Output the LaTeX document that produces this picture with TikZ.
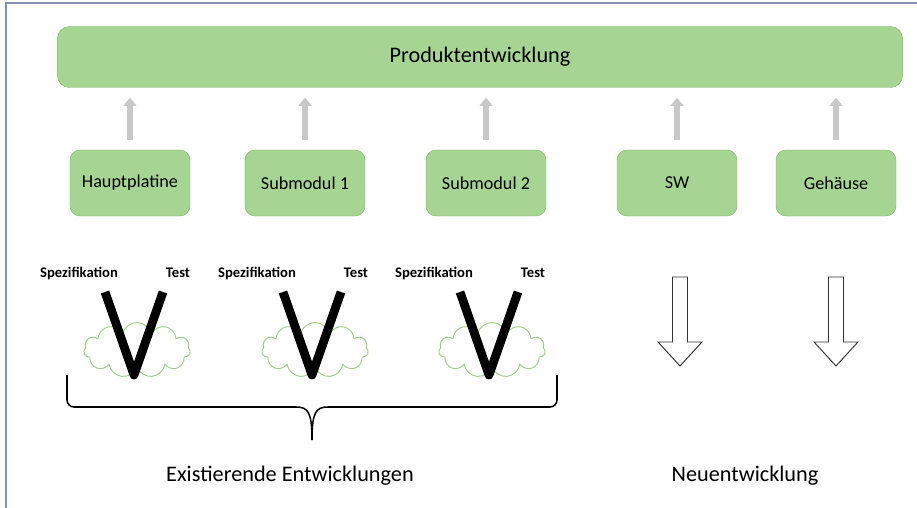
\documentclass[tikz,border=0pt]{standalone}
\usepackage{fontspec}
\setmainfont{Carlito}
\usetikzlibrary{shapes.symbols,arrows.meta}
\definecolor{boxfill}{RGB}{166,212,146}
\definecolor{boxline}{RGB}{126,186,104}
\definecolor{cloudline}{RGB}{160,205,140}
\definecolor{framecol}{RGB}{132,146,182}
\definecolor{uparrow}{RGB}{200,200,200}
\tikzset{
  modbox/.style={draw=boxline, fill=boxfill, rounded corners=0.3cm, minimum width=3.6cm, minimum height=1.98cm, font=\fontsize{15.5}{18}\selectfont},
  upflow/.style={line width=5pt, uparrow, -{Triangle[width=11pt,length=7pt]}, shorten <=8.5pt, shorten >=8.5pt},
  vlabel/.style={anchor=base, font=\bfseries\fontsize{12.5}{14}\selectfont},
  bigv/.style={line width=7.5pt, line join=round},
  puff/.style={cloud, cloud puffs=11, draw=cloudline, thick, minimum width=3.2cm, minimum height=1.65cm, aspect=2},
  hollow/.style={draw=black!80, fill=white, thick},
  footer/.style={font=\fontsize{19}{22}\selectfont}
}
\begin{document}
\begin{tikzpicture}[x=0.03cm, y=-0.03cm]
\useasboundingbox (0,0) rectangle (917,508);
\draw[framecol, line width=1.5pt] (6,508) -- (6,3) -- (917,3);
% Produkt
\node[modbox, minimum width=25.35cm, minimum height=1.83cm, rounded corners=0.36cm, font=\fontsize{19}{22}\selectfont] (prod) at (480,57) {Produktentwicklung};
\node[modbox] (hp) at (130,183) {Hauptplatine};
\node[modbox] (sm1) at (305,183) {Submodul 1};
\node[modbox] (sm2) at (486,183) {Submodul 2};
\node[modbox] (sw) at (677,183) {SW};
\node[modbox] (geh) at (836,183) {Gehäuse};
\foreach \m in {hp,sm1,sm2,sw,geh}
  \draw[upflow] (\m.north) -- (\m.north |- prod.south);
% V-Modelle
\foreach \vx/\nm in {134/va,312/vb,489/vc} {
  \node[puff] (\nm-cloud) at (\vx+3,350) {};
  \draw[bigv] (\vx-29,292) -- (\vx,375) -- (\vx+29,292);
  \node[vlabel] (\nm-spez) at (\vx-55,278) {Spezifikation};
  \node[vlabel] (\nm-test) at (\vx+44,278) {Test};
}
% Klammer
\draw[line width=1.3pt, rounded corners=6pt] (67,375) -- (67,407) -- (296,407);
\draw[line width=1.3pt, rounded corners=6pt] (557,375) -- (557,407) -- (328,407);
\draw[line width=1.3pt] (296,407) .. controls (308,407) and (312,412) .. (312,440)
  .. controls (312,412) and (316,407) .. (328,407);
% neue Pfeile
\foreach \ax in {680,836}
  \draw[hollow] (\ax-7.5,277) -- (\ax+7.5,277) -- (\ax+7.5,342) -- (\ax+22,342)
    -- (\ax,366) -- (\ax-22,342) -- (\ax-7.5,342) -- cycle;
\node[footer] (exist) at (290,476) {Existierende Entwicklungen};
\node[footer] (neu) at (745,476) {Neuentwicklung};
\end{tikzpicture}
\end{document}
